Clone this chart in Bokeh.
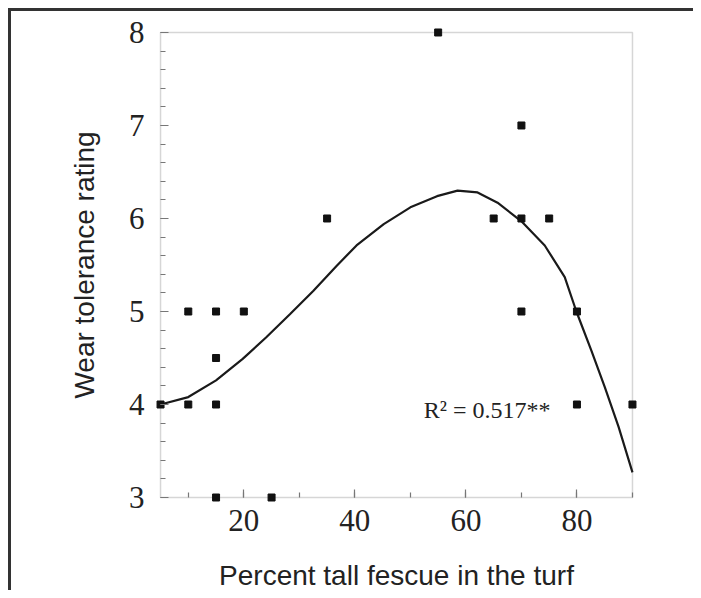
from bokeh.plotting import figure
from bokeh.models import Range1d, SingleIntervalTicker, Label, BoxAnnotation
from bokeh.embed import file_html
from bokeh.resources import INLINE

# Observed data points
pct_fescue = [5, 10, 10, 15, 15, 15, 15, 20, 25, 35, 55, 65, 70, 70, 70, 75, 80, 80, 90]
wear_rating = [4, 5, 4, 5, 4.5, 4, 3, 5, 3, 6, 8, 6, 7, 6, 5, 6, 5, 4, 4]

# Fitted regression curve
curve_x = [5, 10, 15, 19.8, 24, 28.3, 32.5, 36.7, 40.3, 45.2, 50, 54.8, 58.5,
           62.1, 65.7, 70, 74.2, 77.8, 79.9, 82.6, 85, 87.5, 90]
curve_y = [4.0, 4.08, 4.26, 4.49, 4.72, 4.97, 5.22, 5.49, 5.71, 5.94, 6.12, 6.24, 6.30,
           6.28, 6.17, 5.97, 5.71, 5.37, 5.0, 4.58, 4.19, 3.76, 3.27]

x_min, x_max = 5, 90
y_min, y_max = 3, 8

fit_label = "R² = 0.517**"
x_title = "Percent tall fescue in the turf"
y_title = "Wear tolerance rating"

# 5px of padding around the axes box so markers sitting on the axes are not clipped
pad_px = 5
pad_x, pad_y = pad_px / (469 / 85), pad_px / (466 / 5)
p = figure(width=685, height=582, output_backend="svg", toolbar_location=None,
           x_range=Range1d(x_min - pad_x, x_max + pad_x),
           y_range=Range1d(y_min - pad_y, y_max + pad_y),
           min_border_left=144, min_border_right=59, min_border_top=16, min_border_bottom=87)
p.styles = {"border-top": "3px solid #333", "border-left": "3px solid #333",
            "box-sizing": "border-box", "margin-left": "8px", "margin-top": "8px"}
p.grid.visible = False
p.outline_line_color = None
p.background_fill_color = "white"
p.border_fill_color = "white"

p.add_layout(BoxAnnotation(left=x_min, right=x_max, bottom=y_min, top=y_max,
                           fill_color=None, line_color="#777", line_width=1.5, level="underlay"))

p.line(curve_x, curve_y, color="#1a1a1a", line_width=2.2)
p.scatter(pct_fescue, wear_rating, marker="square", size=7, color="#111")

p.xaxis.ticker = SingleIntervalTicker(interval=20, num_minor_ticks=2)
p.yaxis.ticker = SingleIntervalTicker(interval=1, num_minor_ticks=5)
p.xaxis.bounds = (x_min, x_max)
p.yaxis.bounds = (y_min, y_max)
for ax in (p.xaxis[0], p.yaxis[0]):
    ax.axis_line_color = None
    ax.major_tick_line_color = "#777"
    ax.minor_tick_line_color = "#777"
    ax.major_tick_line_width = 1.2
    ax.minor_tick_line_width = 1.2
    ax.major_tick_out = -pad_px
    ax.minor_tick_out = -pad_px
    ax.major_tick_in = 8 + pad_px
    ax.minor_tick_in = 5 + pad_px
    ax.major_label_text_font = "Liberation Serif"
    ax.major_label_text_font_size = "31px"
    ax.major_label_text_color = "#222"
    ax.axis_label_text_font = "Liberation Sans"
    ax.axis_label_text_font_size = "28px"
    ax.axis_label_text_font_style = "normal"
    ax.axis_label_text_color = "#222"

p.xaxis.axis_label = x_title
p.yaxis.axis_label = y_title
p.xaxis.major_label_standoff = 12
p.yaxis.major_label_standoff = 16
p.xaxis.axis_label_standoff = 26
p.yaxis.axis_label_standoff = 26

p.add_layout(Label(x=52.4, y=3.94, text=fit_label, text_font="Liberation Serif",
                   text_font_size="24px", text_color="#222", text_baseline="alphabetic"))

open("out.html", "w").write(file_html(p, INLINE))
